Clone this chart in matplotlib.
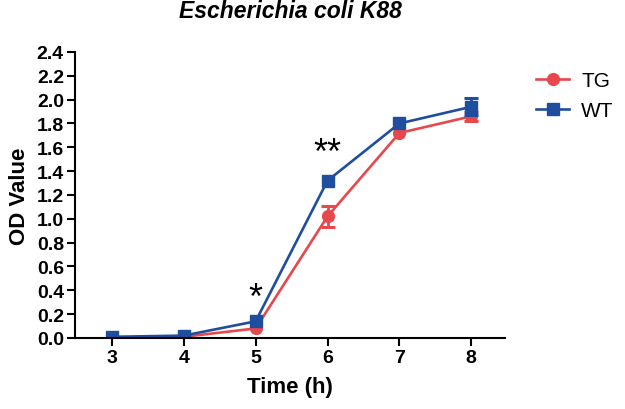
import numpy as np
import matplotlib.pyplot as plt

plt.rcParams['font.family'] = ['Liberation Sans', 'DejaVu Sans']

# data
hours = [3, 4, 5, 6, 7, 8]
tg = [0.00, 0.01, 0.08, 1.02, 1.72, 1.86]
tg_err = [0.0, 0.0, 0.0, 0.09, 0.0, 0.04]
wt = [0.01, 0.02, 0.14, 1.32, 1.80, 1.94]
wt_err = [0.0, 0.0, 0.0, 0.0, 0.0, 0.07]
yticks = np.arange(0, 2.41, 0.2)

red = '#E8474C'
blue = '#1F4E9E'

fig = plt.figure(figsize=(6.25, 4.1), dpi=100)
ax = fig.add_axes([0.12, 0.1732, 0.688, 0.6976])


def draw(x, y, err, color, marker, label):
    ax.plot(x, y, color=color, marker=marker, ms=8.5, lw=1.9, label=label)
    # error bars only where there is a visible spread
    x = np.array(x)
    y = np.array(y)
    err = np.array(err)
    keep = err > 0
    ax.errorbar(x[keep], y[keep], yerr=err[keep], fmt='none', ecolor=color,
                elinewidth=2, capsize=5, capthick=2.2)


draw(hours, tg, tg_err, red, 'o', 'TG')
draw(hours, wt, wt_err, blue, 's', 'WT')

# significance marks
ax.text(5, 0.33, '*', ha='center', va='center', fontsize=26)
ax.text(6, 1.55, '**', ha='center', va='center', fontsize=26)

ax.set_xlim(2.486, 8.47)
ax.set_ylim(0, 2.4)
ax.set_xticks(hours)
ax.set_yticks(yticks)
ax.set_yticklabels(['%.1f' % v for v in yticks])
for lab in ax.get_xticklabels() + ax.get_yticklabels():
    lab.set_fontweight('bold')
ax.tick_params(labelsize=14, width=1.5, length=6, direction='out', pad=2)
for s in ['top', 'right']:
    ax.spines[s].set_visible(False)
for s in ['left', 'bottom']:
    ax.spines[s].set_linewidth(1.5)

ax.set_xlabel('Time (h)', fontsize=16, fontweight='bold', labelpad=7)
ax.set_ylabel('OD Value', fontsize=16, fontweight='bold', labelpad=5)
ax.set_title('Escherichia coli K88', fontsize=16.5, fontweight='bold',
             fontstyle='italic', pad=25)

ax.legend(loc='upper left', bbox_to_anchor=(526 / 625, 1 - 62 / 410),
          bbox_transform=fig.transFigure, frameon=False, borderpad=0,
          fontsize=15, handlelength=1.55, handletextpad=0.6,
          labelspacing=0.5)

fig.savefig('out.png', dpi=100)
